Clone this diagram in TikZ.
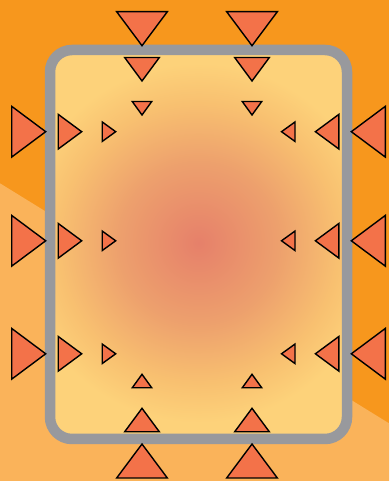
\documentclass[tikz,border=0pt]{standalone}
\usepackage{tikz}
\definecolor{bgorange}{HTML}{F7971D}
\definecolor{bglight}{HTML}{FAB35A}
\definecolor{framegray}{HTML}{98999D}
\definecolor{trired}{HTML}{F37249}
\definecolor{glowA}{HTML}{E6806A}
\definecolor{glowB}{HTML}{EDA06D}
\definecolor{glowC}{HTML}{F8C070}
\definecolor{glowD}{HTML}{FDD27A}
\pgfdeclareradialshading{glow}{\pgfpoint{0bp}{0bp}}{color(0bp)=(glowA); color(8bp)=(glowB); color(14bp)=(glowC); color(18bp)=(glowD); color(50bp)=(glowD)}
\tikzset{
  trifill/.style={fill=trired, draw=black, line width=1.4pt, line join=miter},
  pics/tri/.style 2 args={code={\draw[trifill] (0,0) -- (-#1,#2/2) -- (-#1,-#2/2) -- cycle;}},
}
\begin{document}
\begin{tikzpicture}[x=1pt,y=1pt]
\useasboundingbox (0,0) rectangle (389,481);
% background
\fill[bgorange] (0,0) rectangle (389,481);
\fill[bglight] (0,297.7) -- (389,57.7) -- (389,0) -- (0,0) -- cycle;
% panel
\fill[glowD, rounded corners=22] (50,431) rectangle (347,42);
\begin{scope}
  \clip[rounded corners=22] (50,431) rectangle (347,42);
  \shade[shading=glow] (198.5,238) circle (250);
\end{scope}
\draw[framegray, line width=10.5pt, rounded corners=22] (50,431) rectangle (347,42);
% top and bottom triangles
\foreach \cx in {142,252}{
  \pic[rotate=-90] at (\cx,435.3) {tri={34}{50.7}};
  \pic[rotate=-90] at (\cx,400) {tri={23.5}{34.7}};
  \pic[rotate=-90] at (\cx,366) {tri={13.5}{19.5}};
  \pic[rotate=90] at (\cx,37) {tri={34}{50.7}};
  \pic[rotate=90] at (\cx,72.7) {tri={23.5}{34.7}};
  \pic[rotate=90] at (\cx,106.7) {tri={13.5}{19.5}};
}
% side triangles
\foreach \cy in {349.3,240.2,127.2}{
  \pic at (45.7,\cy) {tri={34}{50.7}};
  \pic at (81.7,\cy) {tri={23.5}{34.7}};
  \pic at (115.7,\cy) {tri={13.5}{19.5}};
  \pic[rotate=180] at (351.3,\cy) {tri={34}{50.7}};
  \pic[rotate=180] at (315.4,\cy) {tri={23.5}{34.7}};
  \pic[rotate=180] at (281.5,\cy) {tri={13.5}{19.5}};
}
\end{tikzpicture}
\end{document}
